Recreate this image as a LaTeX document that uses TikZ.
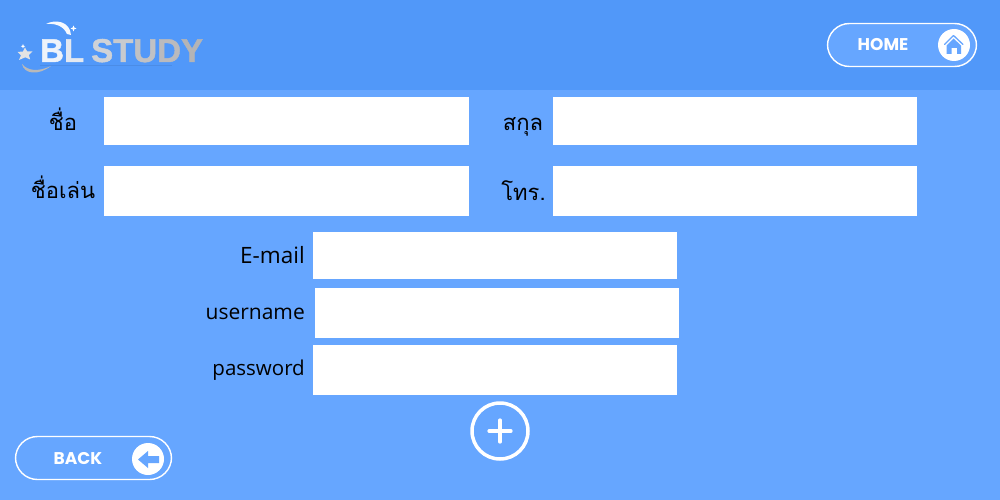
\documentclass[tikz,border=0pt]{standalone}
\usepackage{fontspec}
\newfontfamily\thaifont[Script=Thai]{Loma}
\newfontfamily\latinfont{Open Sans}
\newfontfamily\btnfont{Poppins}
\newfontfamily\logofont[FakeBold=1.3]{Liberation Sans Bold}
\definecolor{headblue}{HTML}{5198F9}
\definecolor{bodyblue}{HTML}{66A6FF}
\tikzset{
  field/.style={fill=white,draw=none},
  thai/.style={text=black,font=\thaifont\fontsize{22}{26}\selectfont,inner sep=0pt,anchor=base},
  latin/.style={text=black,font=\latinfont\fontsize{21}{24}\selectfont,inner sep=0pt,anchor=base east},
  pill/.style={draw=white,line width=1.4pt,rounded corners=22pt,fill=bodyblue},
  btntext/.style={text=white,font=\btnfont\bfseries\fontsize{17}{19}\selectfont,inner sep=0pt},
  logotext/.style={font=\logofont\fontsize{33}{36}\selectfont,inner sep=0pt,anchor=base west},
}
\begin{document}
\begin{tikzpicture}[x=1pt,y=-1pt]
\useasboundingbox (0,0) rectangle (1000,500);
\fill[bodyblue] (0,0) rectangle (1000,500);
\fill[headblue] (0,0) rectangle (1000,90);
% logo
\fill[black!40!headblue,opacity=.18] (40,65) -- (172,65) -- (172,66) -- (40,66) -- cycle;
\fill[white,opacity=.95] (46,24) .. controls (55,19) and (70,21) .. (71,35) -- (67,34) .. controls (64,27) and (57,23) .. (46,24) -- cycle;
\fill[white] (73.5,25.5) -- (74.3,27.5) -- (76.5,28.5) -- (74.3,29.3) -- (73.5,31.5) -- (72.7,29.3) -- (70.5,28.5) -- (72.7,27.5) -- cycle;
\fill[white] (23,44) -- (23.6,45.6) -- (25.2,46.3) -- (23.6,47) -- (23,48.6) -- (22.4,47) -- (20.8,46.3) -- (22.4,45.6) -- cycle;
\fill[gray!22] (25,47.5) -- (27.2,51.5) -- (32.5,51.3) -- (28.8,55) -- (30.2,59.5) -- (25.3,57.3) -- (19,60) -- (21,55.3) -- (17.5,52) -- (23,51.5) -- cycle;
\fill[gray!55] (22,64) .. controls (24,74) and (38,76) .. (51,66) .. controls (38,72) and (28,71) .. (22,64) -- cycle;
\node[logotext] (bl) at (40,62) {\textcolor[HTML]{EEF3FA}{B}\textcolor[HTML]{E3E8F0}{L}};
\node[logotext] (study) at (91,62) {\textcolor[HTML]{CFD2D7}{S}\textcolor[HTML]{C8CACE}{T}\textcolor[HTML]{C0C1C4}{U}\textcolor[HTML]{BABABD}{D}\textcolor[HTML]{B4B4B6}{Y}};
% fields
\node[field,minimum width=365pt,minimum height=48pt,inner sep=0pt] (name) at (286.5,121) {};
\node[field,minimum width=364pt,minimum height=48pt,inner sep=0pt] (surname) at (735,121) {};
\node[field,minimum width=365pt,minimum height=50pt,inner sep=0pt] (nick) at (286.5,191) {};
\node[field,minimum width=364pt,minimum height=50pt,inner sep=0pt] (tel) at (735,191) {};
\node[field,minimum width=364pt,minimum height=47pt,inner sep=0pt] (email) at (495,255.5) {};
\node[field,minimum width=364pt,minimum height=50pt,inner sep=0pt] (user) at (497,313) {};
\node[field,minimum width=364pt,minimum height=50pt,inner sep=0pt] (pass) at (495,370) {};
% labels
\node[thai] (lname) at (63,130) {ชื่อ};
\node[thai] (lsur) at (523,130.5) {สกุล};
\node[thai] (lnick) at (63,198) {ชื่อเล่น};
\node[thai] (ltel) at (523.5,200) {โทร.};
\node[latin,font=\latinfont\fontsize{22.5}{24}\selectfont] (lemail) at (305,263) {E-mail};
\node[latin] (luser) at (305,319.5) {username};
\node[latin,font=\latinfont\fontsize{20.5}{24}\selectfont] (lpass) at (305,375.5) {password};
% home
\node[pill,minimum width=149pt,minimum height=43pt,inner sep=0pt] (home) at (902,45) {};
\node[btntext] (hometext) at (883,45) {HOME};
\node[circle,fill=white,minimum size=32pt,inner sep=0pt] (homeicon) at (954,45) {};
\draw[bodyblue,line width=1.3pt,line cap=round,line join=round] (944.5,44.5) -- (953.5,35.5) -- (963,44.5);
\fill[bodyblue] (946.5,45.5) -- (953.5,38.5) -- (961,45.5) -- (961,54) -- (957,54) -- (957,48) -- (951.5,48) -- (951.5,54) -- (946.5,54) -- cycle;
% back
\node[pill,minimum width=156pt,minimum height=43pt,inner sep=0pt] (back) at (93.5,458) {};
\node[btntext] (backtext) at (78,459) {BACK};
\node[circle,fill=white,minimum size=32pt,inner sep=0pt] (backicon) at (148,459) {};
\fill[bodyblue] (138,459.5) -- (148,451) -- (148,456) -- (159,456) -- (159,463) -- (148,463) -- (148,468) -- cycle;
% add
\node[circle,draw=white,line width=3.5pt,minimum size=56pt,inner sep=0pt] (add) at (500,431) {};
\draw[white,line width=3.2pt,line cap=round] (489,431) -- (511,431) (500,420) -- (500,442);
\end{tikzpicture}
\end{document}
